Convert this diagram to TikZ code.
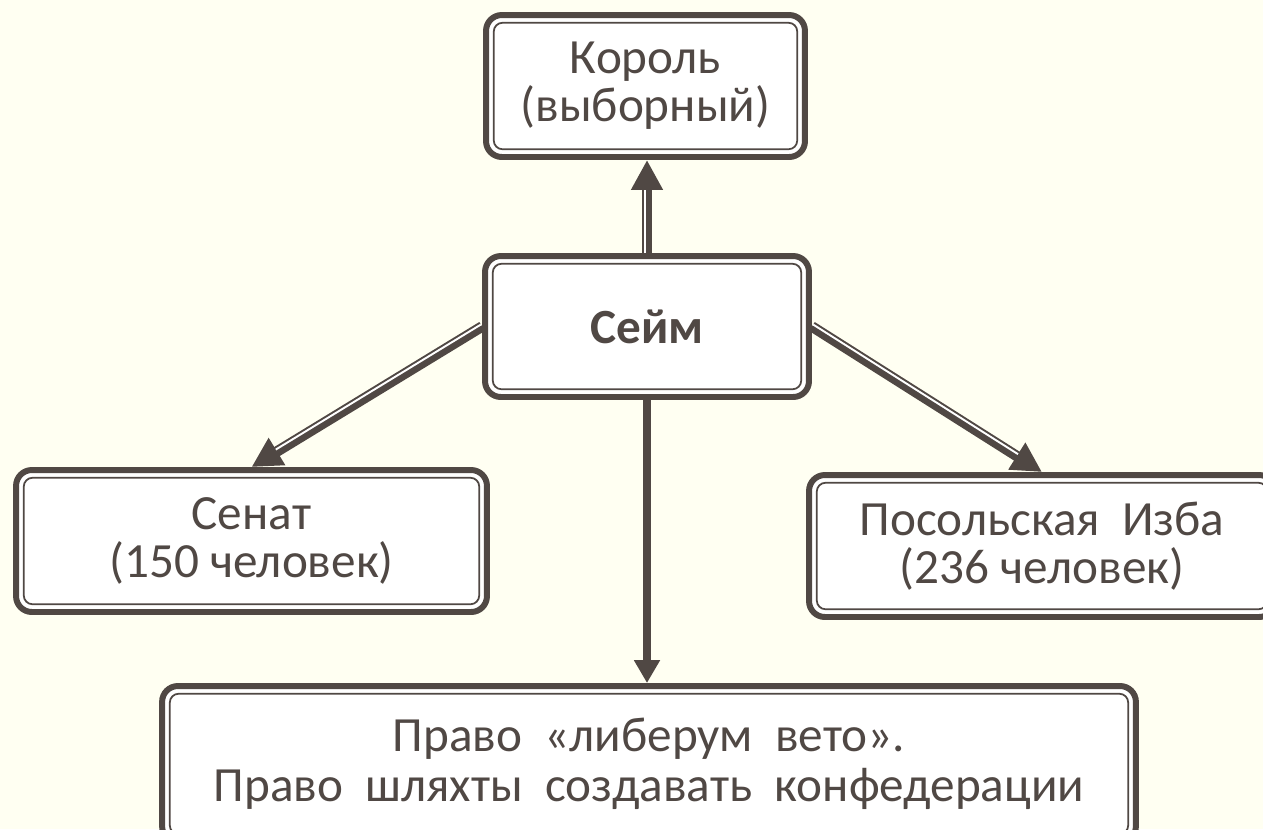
\documentclass[tikz,border=0pt]{standalone}
\usepackage{fontspec}
\setmainfont{Carlito}
\usetikzlibrary{arrows.meta}
\definecolor{ink}{RGB}{80,72,68}
\definecolor{paper}{RGB}{255,255,242}

\begin{document}
\begin{tikzpicture}[
		x=0.02cm, y=-0.02cm,
		box/.style={draw=ink, line width=3.4pt, rounded corners=9pt, fill=white, text=ink, align=center,
			font=\fontsize{28}{27.5}\selectfont,
			path picture={\draw[ink, line width=1pt, rounded corners=5pt]
				([shift={(4.4pt,4.4pt)}]path picture bounding box.south west) rectangle
				([shift={(-4.4pt,-4.4pt)}]path picture bounding box.north east);}},
		dblarrow/.style={draw=ink, line width=6pt, -{Triangle[length=17pt,width=17pt]},
			postaction={draw=white, line width=1.1pt, -, shorten >=17pt, transform canvas={shift={#1}}}},
		thinarrow/.style={draw=ink, line width=4pt, -{Triangle[length=13pt,width=14pt]}},
	]
	\useasboundingbox (0,0) rectangle (1263,829);
	\clip (0,0) rectangle (1263,829);
	\fill[paper] (0,0) rectangle (1263,829);

	\node[box, minimum width=6.38cm, minimum height=2.84cm] (king) at (645.5,86) {Король\\(выборный)};
	\node[box, minimum width=6.48cm, minimum height=2.82cm, font=\fontsize{28}{27.5}\selectfont\bfseries] (seim) at (647,326.5) {Сейм};
	\node[box, minimum width=9.42cm, minimum height=2.84cm] (senate) at (251.5,541) {Сенат\\(150 человек)};
	\node[box, minimum width=9.32cm, minimum height=2.84cm] (izba) at (1042,546) {Посольская~~Изба\\(236 человек)};
	\node[box, minimum width=19.48cm, minimum height=3.12cm, font=\fontsize{28}{28.5}\selectfont] (rights) at (649,764)
		{Право~~«либерум~~вето».\\Право~~шляхты~~создавать~~конфедерации};

	\draw[dblarrow={(-1.3pt,0pt)}] (seim.north) -- (seim.north |- king.south);
	\draw[dblarrow={(-0.7pt,1.1pt)}] (seim.west) -- (senate.north);
	\draw[dblarrow={(0.7pt,1.1pt)}] (seim.east) -- (izba.north);
	\draw[thinarrow] (seim.south) -- (seim.south |- rights.north);
\end{tikzpicture}
\end{document}
